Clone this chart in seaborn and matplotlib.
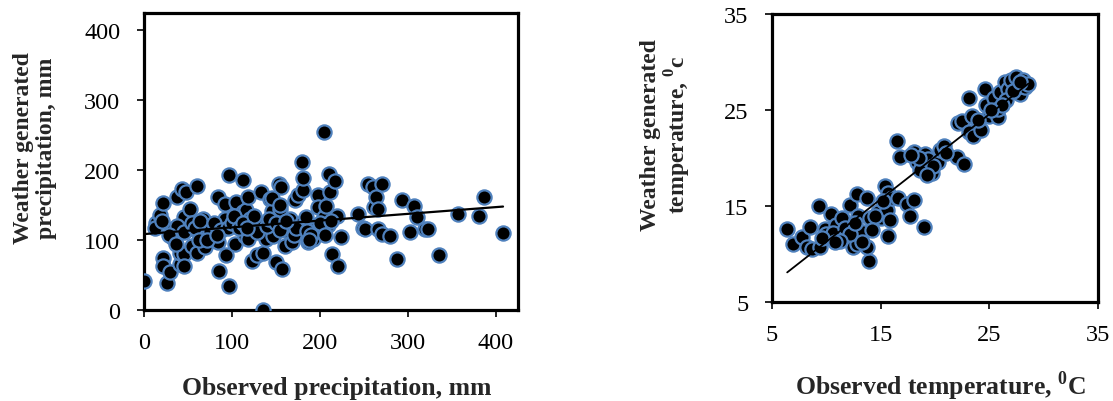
import numpy as np
import pandas as pd
import matplotlib
matplotlib.use("Agg")
import matplotlib.pyplot as plt
import seaborn as sns

# Monthly precipitation (mm): observed vs weather-generator output
obs_precip = [0, 14, 18, 22, 22, 22, 26, 30, 32, 33, 37, 41, 41, 43, 45, 46, 48, 46, 50, 52,
              54, 60, 60, 62, 67, 69, 71, 77, 84, 84, 85, 90, 92, 93, 92, 97, 97, 103, 105, 109,
              113, 113, 115, 116, 118, 118, 120, 123, 128, 130, 133, 135, 135, 139, 143, 145, 147, 150, 153, 154,
              156, 157, 160, 162, 165, 166, 168, 172, 175, 179, 180, 181, 181, 184, 186, 192, 194, 198, 198, 204,
              203, 205, 207, 209, 210, 211, 214, 217, 219, 220, 224, 243, 249, 251, 254, 260, 261, 264, 266, 266,
              271, 271, 280, 287, 293, 302, 307, 310, 319, 323, 335, 357, 381, 386, 408,
              38, 45, 55, 58, 64, 75, 80, 88, 95, 100, 102, 108, 112, 125, 128, 140, 142, 150, 155, 170,
              173, 185, 190, 200, 206, 212, 161, 187, 63, 72, 83, 117, 145, 155, 28, 36, 12, 20]
gen_precip = [42, 125, 136, 153, 75, 63, 39, 54, 104, 116, 161, 66, 82, 173, 80, 133, 169, 63, 116, 145,
              92, 82, 178, 111, 130, 90, 111, 121, 161, 97, 56, 121, 152, 78, 130, 193, 34, 94, 154, 128,
              140, 186, 106, 143, 161, 101, 130, 70, 78, 121, 169, 82, 0, 101, 159, 142, 106, 68, 181, 145,
              176, 58, 92, 121, 111, 130, 97, 157, 164, 125, 212, 171, 189, 133, 97, 101, 116, 164, 147, 255,
              116, 133, 149, 121, 195, 169, 80, 185, 135, 63, 104, 138, 118, 116, 181, 176, 147, 161, 145, 116,
              181, 109, 106, 73, 157, 111, 149, 133, 116, 116, 79, 137, 135, 162, 110,
              120, 112, 125, 118, 128, 113, 125, 115, 118, 125, 135, 118, 125, 135, 112, 120, 130, 125, 115, 108,
              118, 113, 108, 125, 108, 128, 127, 100, 100, 100, 108, 117, 160, 150, 107, 95, 118, 128]

# Monthly mean temperature (deg C): observed vs weather-generator output
obs_temp = [6.4, 6.9, 7.75, 8.5, 8.2, 8.7, 9.3, 9.4, 9.9, 10.0, 10.4, 10.9, 10.5, 11.4, 11.4, 12.2, 12.0, 12.5, 12.8, 12.9,
            12.8, 13.4, 13.7, 13.9, 14.0, 13.7, 14.8, 15.0, 15.4, 15.7, 15.6, 15.7, 15.9, 16.0, 16.5, 16.6, 16.8, 17.4, 17.7, 18.1,
            18.1, 19.0, 18.3, 18.6, 19.1, 19.4, 19.7, 20.3, 20.5, 20.8, 22.0, 22.7, 22.1, 22.5, 23.1, 23.1, 23.5, 23.4, 24.2, 24.6,
            24.7, 25.0, 25.4, 25.8, 26.0, 25.8, 26.4, 26.7, 27.0, 27.5, 27.8, 28.0, 28.3, 28.1, 28.6,
            10.6, 9.6, 11.7, 12.2, 14.5, 13.3, 11.3, 10.8, 12.6, 14.2, 15.2, 18.5, 19.8, 21.0, 24.0, 26.5, 27.2, 27.8, 26.2, 25.2,
            19.3, 17.8]
gen_temp = [12.6, 11.0, 11.8, 12.8, 10.7, 10.5, 15.0, 10.7, 12.6, 12.1, 14.2, 13.0, 11.9, 13.7, 11.6, 15.1, 12.6, 10.7, 16.3, 14.0,
            11.0, 12.3, 15.8, 9.3, 13.7, 10.7, 14.4, 13.7, 17.1, 16.4, 14.6, 11.9, 13.5, 15.8, 21.8, 15.8, 20.1, 15.2, 14.0, 15.6,
            20.6, 12.8, 19.6, 18.7, 20.4, 19.9, 18.4, 19.6, 20.8, 21.3, 20.1, 19.4, 23.6, 23.9, 26.3, 22.7, 22.3, 24.4, 22.9, 27.2,
            25.5, 24.4, 26.2, 24.3, 26.9, 25.1, 27.9, 27.2, 28.1, 28.4, 26.7, 27.5, 27.4, 28.1, 27.7,
            12.2, 11.7, 12.7, 12.1, 14.0, 11.2, 11.4, 11.2, 13.2, 12.5, 15.5, 20.0, 19.2, 20.5, 24.0, 26.0, 27.0, 27.9, 25.5, 25.0,
            18.2, 20.3]

precip_ticks = [0, 100, 200, 300, 400]
temp_ticks = [5, 15, 25, 35]

sns.set_theme(style="white")
plt.rcParams["font.family"] = ["Liberation Serif", "DejaVu Serif"]
plt.rcParams["mathtext.fontset"] = "custom"
plt.rcParams["mathtext.rm"] = "Liberation Serif"
plt.rcParams["mathtext.bf"] = "Liberation Serif:bold"

fig = plt.figure(figsize=(11.13, 4.02), dpi=100)
ax1 = fig.add_axes([0.1294, 0.2264, 0.3360, 0.7388])
ax2 = fig.add_axes([0.6936, 0.2463, 0.2929, 0.7164])

df_p = pd.DataFrame({"obs": obs_precip, "gen": gen_precip})
df_t = pd.DataFrame({"obs": obs_temp, "gen": gen_temp})

marker_kw = dict(s=105, color="black", edgecolor="#4F81BD", linewidth=1.6, zorder=3)
sns.scatterplot(data=df_p, x="obs", y="gen", ax=ax1, **marker_kw)
sns.regplot(data=df_p, x="obs", y="gen", ax=ax1, scatter=False, ci=None,
            line_kws=dict(color="black", lw=1.6, zorder=4))
sns.scatterplot(data=df_t, x="obs", y="gen", ax=ax2, **marker_kw)
sns.regplot(data=df_t, x="obs", y="gen", ax=ax2, scatter=False, ci=None,
            line_kws=dict(color="black", lw=1.3, zorder=4))

tick_fs = 17.5
label_fs = 17
xlabel_fs = 18.5

for ax in (ax1, ax2):
    for sp in ax.spines.values():
        sp.set_visible(True)
        sp.set_color("black")
        sp.set_linewidth(2.3)
    ax.tick_params(axis="both", direction="out", length=5, width=1.2, color="black",
                   labelsize=tick_fs, labelcolor="black",
                   bottom=True, left=True, top=False, right=False)
    ax.tick_params(axis="x", pad=11)
    ax.tick_params(axis="y", pad=12)
    ax.grid(False)
    ax.set_facecolor("white")

ax1.set_xlim(0, 425)
ax1.set_ylim(0, 425)
ax1.set_xticks(precip_ticks)
ax1.set_yticks(precip_ticks)
ax1.set_xlabel("Observed precipitation, mm", fontsize=xlabel_fs, fontweight="bold")
ax1.set_ylabel("Weather generated\nprecipitation, mm", fontsize=label_fs, fontweight="bold",
               linespacing=1.1)
ax1.xaxis.set_label_coords(0.515, -0.222)
ax1.yaxis.set_label_coords(-0.233, 0.549)

ax2.set_xlim(5, 35)
ax2.set_ylim(5, 35)
ax2.set_xticks(temp_ticks)
ax2.set_yticks(temp_ticks)
ax2.set_xlabel(r"Observed temperature, $^{\mathbf{0}}$C", fontsize=xlabel_fs, fontweight="bold")
ax2.set_ylabel("Weather generated\n" + r"temperature, $^{\mathbf{0}}$c", fontsize=label_fs,
               fontweight="bold", linespacing=1.1)
ax2.xaxis.set_label_coords(0.517, -0.232)
ax2.yaxis.set_label_coords(-0.242, 0.583)

fig.savefig("out.png", dpi=100, facecolor="white")
